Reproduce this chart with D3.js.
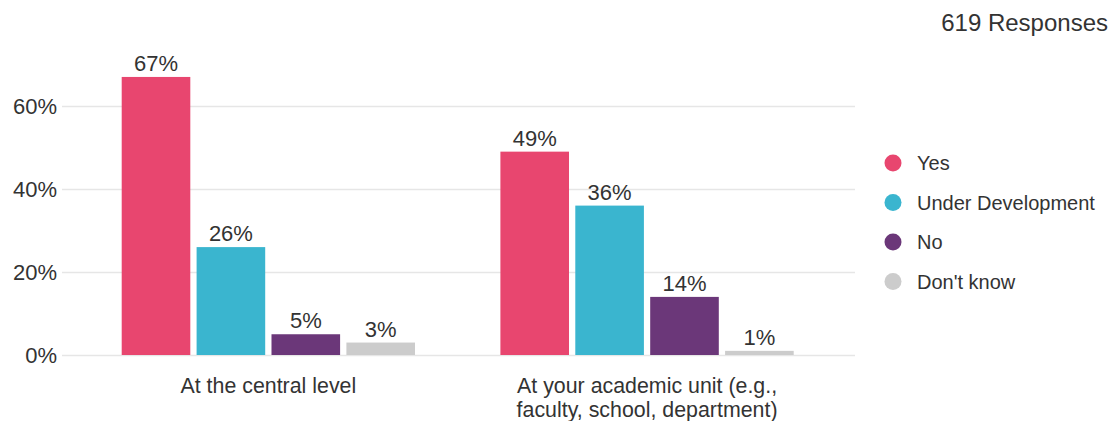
<!DOCTYPE html>
<html>
<head>
<meta charset="utf-8">
<script src="https://cdn.jsdelivr.net/npm/d3@7"></script>
<style>
  html, body { margin: 0; padding: 0; background: #fff; }
  svg { display: block; font-family: "Liberation Sans", Arial, sans-serif; }
</style>
</head>
<body>
<svg id="chart" width="1114" height="421"></svg>
<script>
// Survey responses by level
const categories = [
  ["At the central level"],
  ["At your academic unit (e.g.,", "faculty, school, department)"]
];
const seriesNames = ["Yes", "Under Development", "No", "Don't know"];
const seriesColors = ["#e8466f", "#3ab5cf", "#6b3779", "#cccccc"];
const centralValues = [67, 26, 5, 3];
const unitValues = [49, 36, 14, 1];
const yTicks = [0, 20, 40, 60];
const responseCount = "619 Responses";

const values = [centralValues, unitValues];
const textColor = "#333";

const svg = d3.select("#chart");

const y = d3.scaleLinear().domain([0, 70]).range([355, 64.5]);

const x0 = d3.scaleBand()
  .domain(d3.range(categories.length))
  .range([79, 836.4])
  .padding(0);

const x1 = d3.scaleBand()
  .domain(d3.range(seriesNames.length))
  .range([42.7, 336])
  .paddingInner(0.084)
  .paddingOuter(0);

// Gridlines and y tick labels
const gridLeft = 62, gridRight = 855;
const yAxis = svg.append("g")
  .attr("transform", `translate(${gridLeft},0)`)
  .call(d3.axisLeft(y)
    .tickValues(yTicks)
    .tickSizeInner(-(gridRight - gridLeft))
    .tickSizeOuter(0)
    .tickPadding(5)
    .tickFormat(d => d + "%"));
yAxis.select(".domain").remove();
yAxis.selectAll(".tick line").attr("stroke", "#e6e6e6").attr("stroke-width", 1.5);
yAxis.selectAll(".tick text")
  .attr("fill", textColor)
  .style("font-size", "22px")
  .style("font-family", "'Liberation Sans', Arial, sans-serif");

// Bars
const groups = svg.append("g").selectAll("g")
  .data(values)
  .join("g")
  .attr("transform", (d, i) => `translate(${x0(i)},0)`);

groups.selectAll("rect")
  .data(d => d.map((v, j) => ({ v, j })))
  .join("rect")
  .attr("x", d => x1(d.j))
  .attr("width", x1.bandwidth())
  .attr("y", d => y(d.v))
  .attr("height", d => y(0) - y(d.v))
  .attr("fill", d => seriesColors[d.j]);

// Value labels
groups.selectAll("text.val")
  .data(d => d.map((v, j) => ({ v, j })))
  .join("text")
  .attr("class", "val")
  .attr("x", d => x1(d.j) + x1.bandwidth() / 2)
  .attr("y", d => y(d.v) - 6)
  .attr("text-anchor", "middle")
  .attr("fill", textColor)
  .style("font-size", "22px")
  .text(d => d.v + "%");

// Category labels
const xAxis = svg.append("g")
  .attr("transform", `translate(0,${y(0)})`)
  .call(d3.axisBottom(x0).tickSize(0).tickFormat(""));
xAxis.select(".domain").remove();
xAxis.selectAll(".tick").each(function(i) {
  const t = d3.select(this).append("text")
    .attr("text-anchor", "middle")
    .attr("fill", textColor)
    .attr("transform", "scale(0.95,1)")
    .style("font-size", "22.5px")
    .style("font-family", "'Liberation Sans', Arial, sans-serif");
  categories[i].forEach((line, k) => {
    t.append("tspan").attr("x", 0).attr("y", 38.5 + k * 23.5).text(line);
  });
});

// Legend
const legend = svg.append("g").selectAll("g")
  .data(seriesNames)
  .join("g")
  .attr("transform", (d, i) => `translate(893,${163 + i * 39.5})`);
legend.append("circle").attr("r", 8.5).attr("fill", (d, i) => seriesColors[i]);
legend.append("text")
  .attr("x", 24)
  .attr("dy", "0.35em")
  .attr("fill", textColor)
  .style("font-size", "20px")
  .text(d => d);

// Response count
svg.append("text")
  .attr("x", 1108)
  .attr("y", 31)
  .attr("text-anchor", "end")
  .attr("fill", textColor)
  .style("font-size", "24px")
  .text(responseCount);
</script>
</body>
</html>
